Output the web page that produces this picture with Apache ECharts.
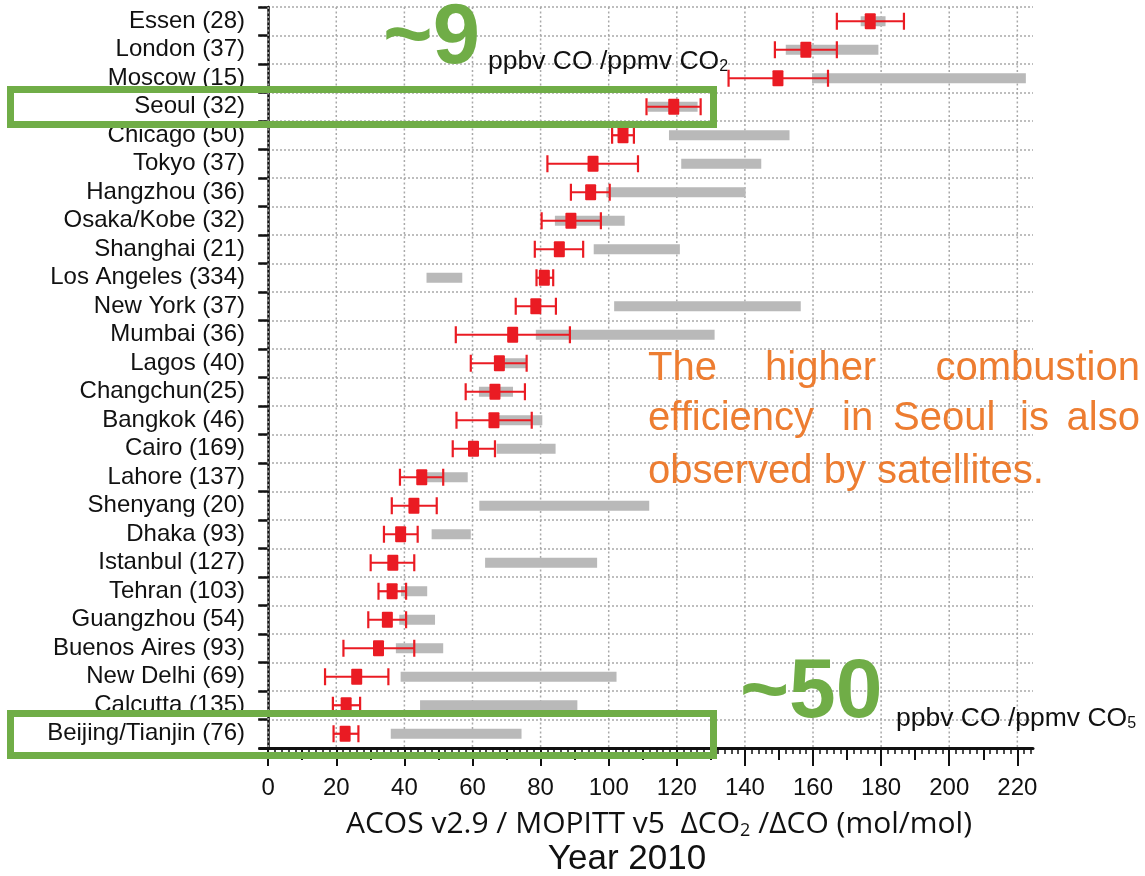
<!DOCTYPE html>
<html>
<head>
<meta charset="utf-8">
<title>ΔCO2/ΔCO by city</title>
<script src="https://cdn.jsdelivr.net/npm/echarts@6/dist/echarts.min.js"></script>
<style>
  html, body { margin: 0; padding: 0; background: #fff; }
  #chart { width: 1145px; height: 876px; }
</style>
</head>
<body>
<div id="chart"></div>
<script>
// City labels (number of soundings in parentheses), top to bottom
const cities = [
  'Essen (28)', 'London (37)', 'Moscow (15)', 'Seoul (32)', 'Chicago (50)',
  'Tokyo (37)', 'Hangzhou (36)', 'Osaka/Kobe (32)', 'Shanghai (21)',
  'Los Angeles (334)', 'New York (37)', 'Mumbai (36)', 'Lagos (40)',
  'Changchun(25)', 'Bangkok (46)', 'Cairo (169)', 'Lahore (137)',
  'Shenyang (20)', 'Dhaka (93)', 'Istanbul (127)', 'Tehran (103)',
  'Guangzhou (54)', 'Buenos Aires (93)', 'New Delhi (69)', 'Calcutta (135)',
  'Beijing/Tianjin (76)'
];

// ACOS / MOPITT ΔCO2/ΔCO enhancement ratio (red square) with its uncertainty range
const satRatio = [176.8, 157.9, 149.7, 119.1, 104.2, 95.4, 94.7, 88.9, 85.5, 81.1, 78.6, 71.8, 67.9,
                  66.6, 66.3, 60.3, 45.1, 42.8, 38.9, 36.6, 36.4, 35.0, 32.4, 26.0, 22.9, 22.6];
const satLow   = [167.0, 148.8, 135.2, 111.1, 101.0, 82.0, 88.9, 80.3, 78.3, 78.8, 72.7, 55.1, 59.5,
                  58.0, 55.3, 54.2, 38.7, 36.3, 34.0, 30.1, 32.4, 29.4, 22.1, 16.7, 19.0, 19.2];
const satHigh  = [186.7, 167.0, 164.4, 127.0, 107.4, 108.6, 100.3, 97.7, 92.5, 83.7, 84.5, 88.6, 75.9,
                  75.4, 77.4, 66.6, 51.4, 49.5, 43.9, 42.9, 40.5, 40.5, 42.9, 35.3, 27.0, 26.5];

// Inventory-based range (grey bar)
const invLow  = [174.0, 152.0, 159.7, 111.5, 117.7, 121.3, 99.3, 84.2, 95.6, 46.5, 101.6, 78.6, 67.0,
                 61.9, 67.1, 67.1, 46.5, 62.0, 48.0, 63.7, 39.0, 38.5, 37.5, 38.9, 44.6, 36.0];
const invHigh = [181.3, 179.2, 222.5, 126.1, 153.1, 144.8, 140.2, 104.7, 120.9, 57.0, 156.4, 131.1, 75.9,
                 71.9, 80.5, 84.4, 58.6, 111.9, 59.5, 96.6, 46.7, 49.0, 51.4, 102.3, 90.8, 74.4];

// x-axis tick labels
const majorTicks = [0, 20, 40, 60, 80, 100, 120, 140, 160, 180, 200, 220];
const midTicks = [10, 30, 50, 70, 90, 110, 130, 150, 170, 190, 210];
const minorTicks = [];
for (let v = 2; v <= 224; v += 2) { if (v % 10 !== 0) minorTicks.push(v); }

const X_MIN = -2.4, X_MAX = 224.6;
const FONT = '"Liberation Sans", Arial, Helvetica, sans-serif';
const RED = '#ea1b23';
const GREY = '#b9b9b9';
const GRID = '#a9a9a9';
const GREEN = '#70ad47';
const ORANGE = '#ed7d31';

const invData = cities.map((c, i) => [invLow[i], invHigh[i], i]);
const satData = cities.map((c, i) => [satRatio[i], satLow[i], satHigh[i], i]);
const gridData = majorTicks.map(v => [v, 0]);

function baseX(extra) {
  return Object.assign({
    type: 'value', gridIndex: 0, position: 'bottom',
    min: X_MIN, max: X_MAX,
    axisLine: { show: false },
    axisTick: { show: false },
    axisLabel: { show: false },
    splitLine: { show: false }
  }, extra);
}

const chart = echarts.init(document.getElementById('chart'), null, { renderer: 'canvas' });

const option = {
  animation: false,
  backgroundColor: '#ffffff',
  grid: { left: 260, right: 112, top: 7, bottom: 128, containLabel: false },
  xAxis: [
    baseX({
      axisLine: { show: true, lineStyle: { color: '#111', width: 3 } },
      axisTick: { show: true, customValues: majorTicks, length: 18, lineStyle: { color: '#111', width: 2 } },
      axisLabel: { show: true, customValues: majorTicks, margin: 28, fontSize: 24,
                   fontFamily: FONT, color: '#111' }
    }),
    baseX({
      axisTick: { show: true, customValues: midTicks, length: 12, lineStyle: { color: '#111', width: 2 } }
    }),
    baseX({
      axisTick: { show: true, customValues: minorTicks, length: 6, lineStyle: { color: '#111', width: 1.5 } }
    })
  ],
  yAxis: {
    type: 'category',
    data: cities,
    inverse: true,
    boundaryGap: true,
    axisLine: { show: true, lineStyle: { color: '#111', width: 2.5 } },
    axisTick: { show: true, interval: 0, length: 10, lineStyle: { color: '#111', width: 2.5 } },
    axisLabel: { interval: 0, fontSize: 24, fontFamily: FONT, color: '#111', margin: 15 },
    splitLine: { show: true, interval: 0, lineStyle: { type: [2, 2], color: GRID, width: 1.5 } }
  },
  series: [
    {
      // dotted vertical grid at every labelled tick
      name: 'xgrid',
      type: 'custom',
      xAxisIndex: 0,
      data: gridData,
      encode: { x: 0, y: 1 },
      silent: true,
      renderItem: function (params, api) {
        const cs = params.coordSys;
        const x = api.coord([api.value(0), 0])[0];
        return {
          type: 'line',
          shape: { x1: x, y1: cs.y, x2: x, y2: cs.y + cs.height },
          style: { stroke: GRID, lineWidth: 1.5, lineDash: [2, 2.5] }
        };
      },
      z: 1
    },
    {
      name: 'inventory',
      type: 'custom',
      xAxisIndex: 0,
      data: invData,
      encode: { x: [0, 1], y: 2 },
      renderItem: function (params, api) {
        const p0 = api.coord([api.value(0), api.value(2)]);
        const p1 = api.coord([api.value(1), api.value(2)]);
        const h = 10;
        return {
          type: 'rect',
          shape: { x: p0[0], y: p0[1] - h / 2, width: p1[0] - p0[0], height: h },
          style: { fill: GREY }
        };
      },
      z: 2
    },
    {
      name: 'satellite',
      type: 'custom',
      xAxisIndex: 0,
      data: satData,
      encode: { x: [0, 1, 2], y: 3 },
      renderItem: function (params, api) {
        const yi = api.value(3);
        const c = api.coord([api.value(0), yi]);
        const lo = api.coord([api.value(1), yi]);
        const hi = api.coord([api.value(2), yi]);
        const cap = 8.5, mw = 11, mh = 16;
        const line = { stroke: RED, lineWidth: 2.2 };
        return {
          type: 'group',
          children: [
            { type: 'line', shape: { x1: lo[0], y1: c[1], x2: hi[0], y2: c[1] }, style: line },
            { type: 'line', shape: { x1: lo[0], y1: c[1] - cap, x2: lo[0], y2: c[1] + cap }, style: line },
            { type: 'line', shape: { x1: hi[0], y1: c[1] - cap, x2: hi[0], y2: c[1] + cap }, style: line },
            { type: 'rect', shape: { x: c[0] - mw / 2, y: c[1] - mh / 2, width: mw, height: mh, r: 1 },
              style: { fill: RED } }
          ]
        };
      },
      z: 3
    }
  ],
  graphic: [
    // highlight boxes
    { type: 'rect', z: 100, shape: { x: 10.5, y: 89.5, width: 703, height: 35 },
      style: { fill: 'none', stroke: GREEN, lineWidth: 7 } },
    { type: 'rect', z: 100, shape: { x: 10.5, y: 713.5, width: 703, height: 42 },
      style: { fill: 'none', stroke: GREEN, lineWidth: 7 } },

    // emission ratio annotations
    { type: 'text', z: 101, x: 383, y: 40,
      style: { text: '~9', font: 'bold 85px ' + FONT, fill: GREEN, verticalAlign: 'middle' } },
    { type: 'text', z: 101, x: 488, y: 60,
      style: {
        text: '{a|ppbv CO /ppmv CO}{s|2}',
        verticalAlign: 'middle',
        rich: {
          a: { fontSize: 26.5, fontFamily: FONT, fill: '#111', lineHeight: 30, verticalAlign: 'bottom' },
          s: { fontSize: 16, fontFamily: FONT, fill: '#111', lineHeight: 12, verticalAlign: 'bottom' }
        }
      } },
    { type: 'text', z: 101, x: 740, y: 694,
      style: { text: '~50', font: 'bold 84px ' + FONT, fill: GREEN, verticalAlign: 'middle' } },
    { type: 'text', z: 101, x: 896, y: 717,
      style: {
        text: '{a|ppbv CO /ppmv CO}{s|5}',
        verticalAlign: 'middle',
        rich: {
          a: { fontSize: 26.5, fontFamily: FONT, fill: '#111', lineHeight: 30, verticalAlign: 'bottom' },
          s: { fontSize: 16, fontFamily: FONT, fill: '#111', lineHeight: 12, verticalAlign: 'bottom' }
        }
      } },

    // justified note
    { type: 'text', z: 101, x: 648, y: 369, style: { text: 'The', font: '40px ' + FONT, fill: ORANGE, verticalAlign: 'middle' } },
    { type: 'text', z: 101, x: 765, y: 369, style: { text: 'higher', font: '40px ' + FONT, fill: ORANGE, verticalAlign: 'middle' } },
    { type: 'text', z: 101, x: 1140, y: 369, style: { text: 'combustion', font: '40px ' + FONT, fill: ORANGE, verticalAlign: 'middle', align: 'right' } },
    { type: 'text', z: 101, x: 648, y: 419, style: { text: 'efficiency', font: '40px ' + FONT, fill: ORANGE, verticalAlign: 'middle' } },
    { type: 'text', z: 101, x: 842, y: 419, style: { text: 'in', font: '40px ' + FONT, fill: ORANGE, verticalAlign: 'middle' } },
    { type: 'text', z: 101, x: 893, y: 419, style: { text: 'Seoul', font: '40px ' + FONT, fill: ORANGE, verticalAlign: 'middle' } },
    { type: 'text', z: 101, x: 1020, y: 419, style: { text: 'is', font: '40px ' + FONT, fill: ORANGE, verticalAlign: 'middle' } },
    { type: 'text', z: 101, x: 1140, y: 419, style: { text: 'also', font: '40px ' + FONT, fill: ORANGE, verticalAlign: 'middle', align: 'right' } },
    { type: 'text', z: 101, x: 648, y: 472, style: { text: 'observed by satellites.', font: '40px ' + FONT, fill: ORANGE, verticalAlign: 'middle' } },

    // axis title and year
    { type: 'text', z: 101, x: 659, y: 822,
      style: {
        text: '{a|ACOS v2.9 / MOPITT v5  ΔCO}{s|2}{a| /ΔCO (mol/mol)}',
        align: 'center', verticalAlign: 'middle',
        rich: {
          a: { fontSize: 30, fontFamily: '"Open Sans", sans-serif', fill: '#111', lineHeight: 35, verticalAlign: 'bottom' },
          s: { fontSize: 18, fontFamily: '"Open Sans", sans-serif', fill: '#111', lineHeight: 13, verticalAlign: 'bottom' }
        }
      } },
    { type: 'text', z: 101, x: 627, y: 859,
      style: { text: 'Year 2010', font: '35px ' + FONT, fill: '#111', align: 'center', verticalAlign: 'middle' } }
  ]
};

chart.setOption(option);
</script>
</body>
</html>
